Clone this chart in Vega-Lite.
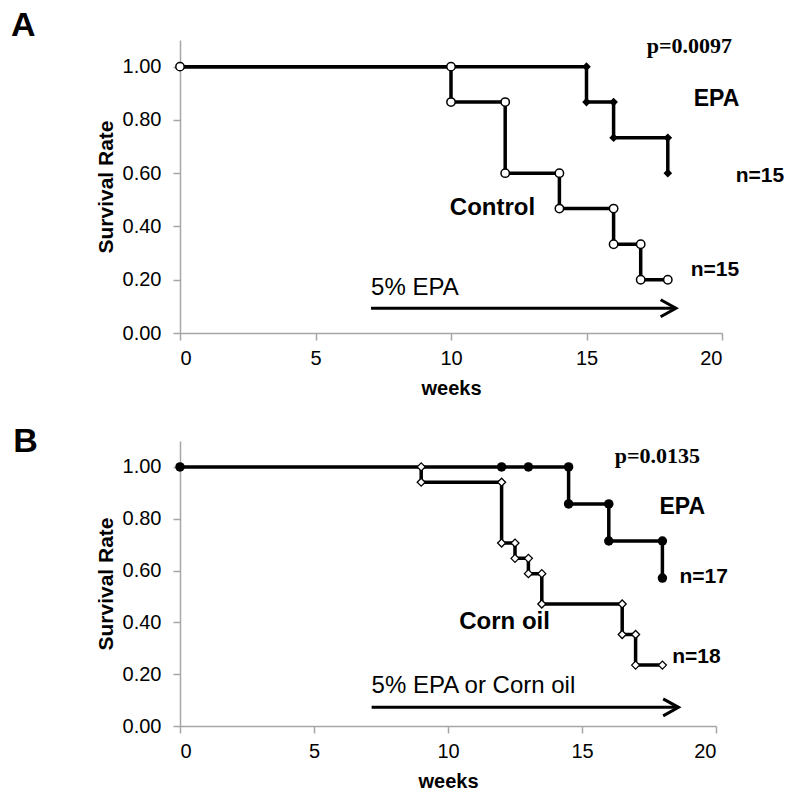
{
  "$schema": "https://vega.github.io/schema/vega-lite/v6.json",
  "background": "white",
  "padding": {"left": 11, "top": 8, "right": 5, "bottom": 5},
  "spacing": 26,
  "config": {
    "view": {"stroke": null},
    "axis": {
      "domainColor": "#A6A6A6", "tickColor": "#A6A6A6", "domainWidth": 1.5, "tickWidth": 1.5,
      "labelFont": "Liberation Sans", "labelFontSize": 20, "labelColor": "black",
      "titleFont": "Liberation Sans", "titleFontWeight": "bold", "titleColor": "black",
      "grid": false, "tickSize": 7
    },
    "text": {"font": "Liberation Sans", "color": "black"}
  },
  "datasets": {
    "curvesA": [
      {"group": "EPA", "i": 0, "week": 0, "rate": 1},
      {"group": "EPA", "i": 1, "week": 15, "rate": 1},
      {"group": "EPA", "i": 2, "week": 15, "rate": 0.867},
      {"group": "EPA", "i": 3, "week": 16, "rate": 0.867},
      {"group": "EPA", "i": 4, "week": 16, "rate": 0.733},
      {"group": "EPA", "i": 5, "week": 18, "rate": 0.733},
      {"group": "EPA", "i": 6, "week": 18, "rate": 0.6},
      {"group": "Control", "i": 0, "week": 0, "rate": 1},
      {"group": "Control", "i": 1, "week": 10, "rate": 1},
      {"group": "Control", "i": 2, "week": 10, "rate": 0.867},
      {"group": "Control", "i": 3, "week": 12, "rate": 0.867},
      {"group": "Control", "i": 4, "week": 12, "rate": 0.6},
      {"group": "Control", "i": 5, "week": 14, "rate": 0.6},
      {"group": "Control", "i": 6, "week": 14, "rate": 0.467},
      {"group": "Control", "i": 7, "week": 16, "rate": 0.467},
      {"group": "Control", "i": 8, "week": 16, "rate": 0.333},
      {"group": "Control", "i": 9, "week": 17, "rate": 0.333},
      {"group": "Control", "i": 10, "week": 17, "rate": 0.2},
      {"group": "Control", "i": 11, "week": 18, "rate": 0.2}
    ],
    "curvesB": [
      {"group": "EPA", "i": 0, "week": 0, "rate": 1},
      {"group": "EPA", "i": 1, "week": 12, "rate": 1},
      {"group": "EPA", "i": 2, "week": 13, "rate": 1},
      {"group": "EPA", "i": 3, "week": 14.5, "rate": 1},
      {"group": "EPA", "i": 4, "week": 14.5, "rate": 0.857},
      {"group": "EPA", "i": 5, "week": 16, "rate": 0.857},
      {"group": "EPA", "i": 6, "week": 16, "rate": 0.714},
      {"group": "EPA", "i": 7, "week": 18, "rate": 0.714},
      {"group": "EPA", "i": 8, "week": 18, "rate": 0.571},
      {"group": "Corn oil", "i": 0, "week": 9, "rate": 1},
      {"group": "Corn oil", "i": 1, "week": 9, "rate": 0.941},
      {"group": "Corn oil", "i": 2, "week": 12, "rate": 0.941},
      {"group": "Corn oil", "i": 3, "week": 12, "rate": 0.706},
      {"group": "Corn oil", "i": 4, "week": 12.5, "rate": 0.706},
      {"group": "Corn oil", "i": 5, "week": 12.5, "rate": 0.647},
      {"group": "Corn oil", "i": 6, "week": 13, "rate": 0.647},
      {"group": "Corn oil", "i": 7, "week": 13, "rate": 0.588},
      {"group": "Corn oil", "i": 8, "week": 13.5, "rate": 0.588},
      {"group": "Corn oil", "i": 9, "week": 13.5, "rate": 0.471},
      {"group": "Corn oil", "i": 10, "week": 16.5, "rate": 0.471},
      {"group": "Corn oil", "i": 11, "week": 16.5, "rate": 0.353},
      {"group": "Corn oil", "i": 12, "week": 17, "rate": 0.353},
      {"group": "Corn oil", "i": 13, "week": 17, "rate": 0.235},
      {"group": "Corn oil", "i": 14, "week": 18, "rate": 0.235}
    ]
  },
  "vconcat": [
    {
      "width": 542,
      "height": 293,
      "encoding": {
        "x": {"field": "week", "type": "quantitative", "scale": {"domain": [0, 20], "nice": false, "zero": false},
              "axis": {"values": [0, 5, 10, 15, 20], "title": "weeks", "titleFontSize": 20, "labelPadding": 8, "titlePadding": 10}},
        "y": {"field": "rate", "type": "quantitative", "scale": {"domain": [0, 1.1], "nice": false},
              "axis": {"values": [0, 0.2, 0.4, 0.6, 0.8, 1.0], "format": ".2f", "title": "Survival Rate", "titleFontSize": 21, "labelPadding": 12, "titlePadding": 6}}
      },
      "layer": [
        {
          "data": {"name": "curvesA"},
          "mark": {"type": "line", "color": "black", "strokeWidth": 3.5},
          "encoding": {"detail": {"field": "group"}, "order": {"field": "i"}}
        },
        {
          "data": {"name": "curvesA"},
          "transform": [{"filter": "datum.group === 'EPA'"}],
          "mark": {"type": "point", "shape": "diamond", "filled": true, "color": "black", "size": 75, "opacity": 1}
        },
        {
          "data": {"name": "curvesA"},
          "transform": [{"filter": "datum.group === 'Control'"}],
          "mark": {"type": "point", "shape": "circle", "filled": true, "fill": "white", "stroke": "black", "strokeWidth": 1.5, "size": 70, "opacity": 1}
        },
        {
          "data": {"values": [{"week": 7.05, "week2": 18.3, "rate": 0.093}]},
          "mark": {"type": "rule", "color": "black", "strokeWidth": 3},
          "encoding": {"x2": {"field": "week2"}}
        },
        {
          "data": {"values": [{"week": 18.3, "rate": 0.093}]},
          "mark": {"type": "point", "shape": "M-1.8,-1L0,0L-1.8,1", "filled": false, "stroke": "black", "strokeWidth": 3, "size": 289, "opacity": 1}
        },
        {
          "data": {"values": [{"week": 7.05, "rate": 0.168, "label": "5% EPA"}]},
          "mark": {"type": "text", "align": "left", "baseline": "middle", "fontSize": 24},
          "encoding": {"text": {"field": "label"}}
        },
        {
          "data": {"values": [
            {"week": 19.8, "rate": 0.88, "label": "EPA", "size": 23},
            {"week": 11.53, "rate": 0.471, "label": "Control", "size": 24},
            {"week": 21.4, "rate": 0.591, "label": "n=15", "size": 21},
            {"week": 19.74, "rate": 0.235, "label": "n=15", "size": 21}
          ]},
          "mark": {"type": "text", "align": "center", "baseline": "middle", "fontWeight": "bold"},
          "encoding": {"text": {"field": "label"}, "size": {"field": "size", "type": "quantitative", "scale": null}}
        },
        {
          "data": {"values": [{"week": 18.8, "rate": 1.079, "label": "p=0.0097"}]},
          "mark": {"type": "text", "align": "center", "baseline": "middle", "font": "Liberation Serif", "fontWeight": "bold", "fontSize": 22},
          "encoding": {"text": {"field": "label"}}
        },
        {
          "data": {"values": [{"week": -5.78, "rate": 1.154, "label": "A"}]},
          "mark": {"type": "text", "align": "center", "baseline": "middle", "fontWeight": "bold", "fontSize": 34},
          "encoding": {"text": {"field": "label"}}
        }
      ]
    },
    {
      "width": 536,
      "height": 285,
      "encoding": {
        "x": {"field": "week", "type": "quantitative", "scale": {"domain": [0, 20], "nice": false, "zero": false},
              "axis": {"values": [0, 5, 10, 15, 20], "title": "weeks", "titleFontSize": 20, "labelPadding": 8, "titlePadding": 10}},
        "y": {"field": "rate", "type": "quantitative", "scale": {"domain": [0, 1.1], "nice": false},
              "axis": {"values": [0, 0.2, 0.4, 0.6, 0.8, 1.0], "format": ".2f", "title": "Survival Rate", "titleFontSize": 21, "labelPadding": 12, "titlePadding": 6}}
      },
      "layer": [
        {
          "data": {"name": "curvesB"},
          "mark": {"type": "line", "color": "black", "strokeWidth": 3.5},
          "encoding": {"detail": {"field": "group"}, "order": {"field": "i"}}
        },
        {
          "data": {"name": "curvesB"},
          "transform": [{"filter": "datum.group === 'EPA'"}],
          "mark": {"type": "point", "shape": "circle", "filled": true, "color": "black", "size": 90, "opacity": 1}
        },
        {
          "data": {"name": "curvesB"},
          "transform": [{"filter": "datum.group === 'Corn oil'"}],
          "mark": {"type": "point", "shape": "diamond", "filled": true, "fill": "white", "stroke": "black", "strokeWidth": 1.3, "size": 64, "opacity": 1}
        },
        {
          "data": {"values": [{"week": 7.15, "week2": 18.6, "rate": 0.072}]},
          "mark": {"type": "rule", "color": "black", "strokeWidth": 3},
          "encoding": {"x2": {"field": "week2"}}
        },
        {
          "data": {"values": [{"week": 18.6, "rate": 0.072}]},
          "mark": {"type": "point", "shape": "M-1.8,-1L0,0L-1.8,1", "filled": false, "stroke": "black", "strokeWidth": 3, "size": 289, "opacity": 1}
        },
        {
          "data": {"values": [{"week": 7.15, "rate": 0.156, "label": "5% EPA or Corn oil"}]},
          "mark": {"type": "text", "align": "left", "baseline": "middle", "fontSize": 24},
          "encoding": {"text": {"field": "label"}}
        },
        {
          "data": {"values": [
            {"week": 18.74, "rate": 0.847, "label": "EPA", "size": 23},
            {"week": 12.11, "rate": 0.40, "label": "Corn oil", "size": 24},
            {"week": 19.54, "rate": 0.576, "label": "n=17", "size": 21},
            {"week": 19.27, "rate": 0.265, "label": "n=18", "size": 21}
          ]},
          "mark": {"type": "text", "align": "center", "baseline": "middle", "fontWeight": "bold"},
          "encoding": {"text": {"field": "label"}, "size": {"field": "size", "type": "quantitative", "scale": null}}
        },
        {
          "data": {"values": [{"week": 17.81, "rate": 1.044, "label": "p=0.0135"}]},
          "mark": {"type": "text", "align": "center", "baseline": "middle", "font": "Liberation Serif", "fontWeight": "bold", "fontSize": 22},
          "encoding": {"text": {"field": "label"}}
        },
        {
          "data": {"values": [{"week": -5.76, "rate": 1.098, "label": "B"}]},
          "mark": {"type": "text", "align": "center", "baseline": "middle", "fontWeight": "bold", "fontSize": 34},
          "encoding": {"text": {"field": "label"}}
        }
      ]
    }
  ]
}
